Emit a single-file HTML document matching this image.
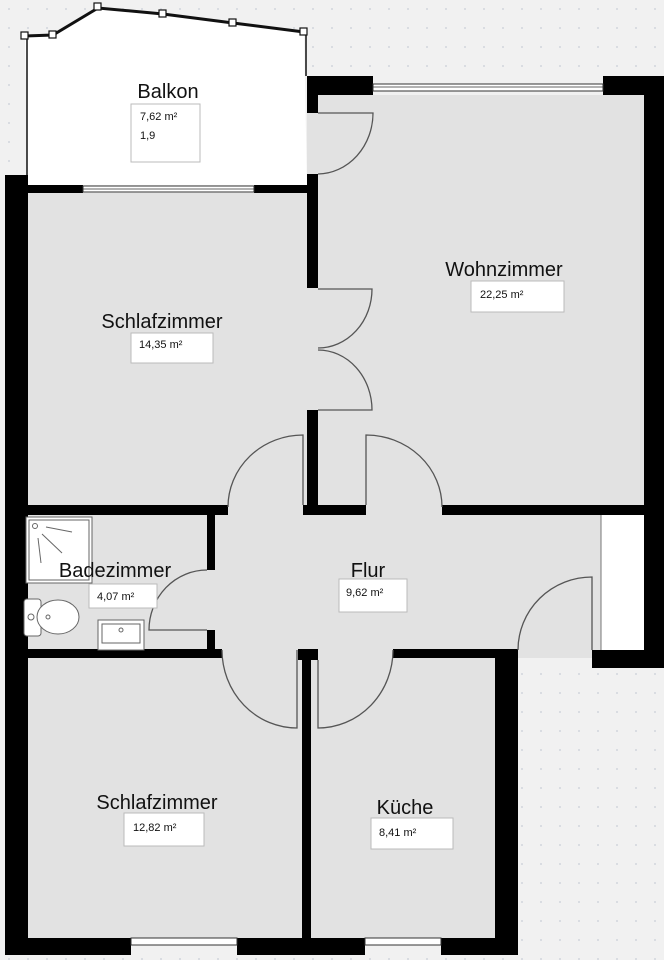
<!DOCTYPE html>
<html><head><meta charset="utf-8"><style>
html,body{margin:0;padding:0;background:#f1f1f1;}
svg{display:block}
text{font-family:"Liberation Sans",sans-serif;fill:#111}
</style></head><body>
<svg width="664" height="960" viewBox="0 0 664 960" xmlns="http://www.w3.org/2000/svg">
<defs>
<pattern id="dots" width="19" height="19" patternUnits="userSpaceOnUse"><circle cx="9" cy="9" r="0.9" fill="#c8ccd6"/></pattern>
</defs>
<rect width="664" height="960" fill="#f1f1f1"/>
<rect width="664" height="960" fill="url(#dots)"/>
<!-- balcony -->
<polygon points="25,36 53,35 98,8 163,14 233,23 304,32 307,185 28,185" fill="#fff"/>
<polyline points="25,36 53,35 98,8 163,14 233,23 304,32" fill="none" stroke="#111" stroke-width="3"/>
<line x1="27" y1="36" x2="27" y2="185" stroke="#111" stroke-width="1.5"/>
<line x1="306" y1="32" x2="306" y2="76" stroke="#111" stroke-width="1.5"/>
<g fill="#fff" stroke="#111" stroke-width="1.2">
<rect x="21" y="32" width="7" height="7"/><rect x="49" y="31" width="7" height="7"/><rect x="94" y="3" width="7" height="7"/><rect x="159" y="10" width="7" height="7"/><rect x="229" y="19" width="7" height="7"/><rect x="300" y="28" width="7" height="7"/>
</g>
<!-- room fills -->
<g fill="#e2e2e2">
<rect x="318" y="95" width="326" height="412"/>
<rect x="28" y="193" width="280" height="314"/>
<rect x="24" y="515" width="184" height="135"/>
<rect x="207" y="507" width="394" height="143"/>
<rect x="518" y="650" width="74" height="8"/>
<rect x="24" y="649" width="280" height="291"/>
<rect x="300" y="649" width="197" height="291"/>
<rect x="307" y="288" width="11" height="122"/>
<rect x="228" y="505" width="75" height="10"/>
<rect x="366" y="505" width="76" height="10"/>
</g>
<rect x="307" y="113" width="16" height="61" fill="#e2e2e2"/>
<rect x="601" y="515" width="43" height="135" fill="#fff"/>
<line x1="601" y1="515" x2="601" y2="650" stroke="#777" stroke-width="1"/>
<!-- walls -->
<g fill="#000">
<rect x="5" y="175" width="23" height="780"/>
<rect x="28" y="185" width="55" height="8"/>
<rect x="254" y="185" width="54" height="8"/>
<rect x="307" y="76" width="66" height="19"/>
<rect x="603" y="76" width="61" height="19"/>
<rect x="644" y="76" width="20" height="592"/>
<rect x="592" y="650" width="72" height="18"/>
<rect x="307" y="76" width="11" height="37"/>
<rect x="307" y="174" width="11" height="114"/>
<rect x="307" y="410" width="11" height="97"/>
<rect x="28" y="505" width="200" height="10"/>
<rect x="303" y="505" width="63" height="10"/>
<rect x="442" y="505" width="202" height="10"/>
<rect x="207" y="515" width="8" height="55"/>
<rect x="207" y="630" width="8" height="20"/>
<rect x="24" y="649" width="198" height="9"/>
<rect x="298" y="649" width="20" height="11"/>
<rect x="393" y="649" width="104" height="9"/>
<rect x="495" y="649" width="23" height="306"/>
<rect x="302" y="658" width="9" height="280"/>
<rect x="5" y="938" width="126" height="17"/>
<rect x="237" y="938" width="128" height="17"/>
<rect x="441" y="938" width="77" height="17"/>
</g>
<!-- windows -->
<g fill="#fff" stroke="#333" stroke-width="1">
<rect x="83" y="186" width="171" height="6"/>
<rect x="373" y="84" width="230" height="7"/>
<rect x="131" y="938" width="106" height="7"/>
<rect x="365" y="938" width="76" height="7"/>
</g>
<line x1="83" y1="189" x2="254" y2="189" stroke="#333" stroke-width="0.8"/>
<line x1="373" y1="87" x2="603" y2="87" stroke="#333" stroke-width="0.8"/>
<!-- doors -->
<g fill="none" stroke="#555" stroke-width="1.3">
<path d="M318,113 L373,113 A56,61 0 0 1 318,174"/>
<path d="M318,289 L372,289 A54,59 0 0 1 318,348"/>
<path d="M318,410 L372,410 A54,60 0 0 0 318,350"/>
<path d="M303,505 L303,435 A75,72 0 0 0 228,507"/>
<path d="M366,505 L366,435 A76,72 0 0 1 442,507"/>
<path d="M207,630 L149,630 A58,60 0 0 1 207,570"/>
<path d="M592,650 L592,577 A74,73 0 0 0 518,650"/>
<path d="M297,650 L297,728 A75,78 0 0 1 222,650"/>
<path d="M318,660 L318,728 A75,78 0 0 0 393,650"/>
</g>
<!-- fixtures -->
<g fill="#fff" stroke="#666" stroke-width="1">
<rect x="26" y="517" width="66" height="66"/>
<rect x="29" y="520" width="60" height="60" fill="none"/>
<circle cx="35" cy="526" r="2.5"/>
<line x1="46" y1="527" x2="72" y2="532"/><line x1="42" y1="534" x2="62" y2="553"/><line x1="38" y1="538" x2="41" y2="563"/>
<rect x="24" y="599" width="17" height="37" rx="3"/>
<ellipse cx="58" cy="617" rx="21" ry="17"/>
<circle cx="31" cy="617" r="3"/><circle cx="48" cy="617" r="2"/>
<rect x="98" y="620" width="46" height="30"/>
<rect x="102" y="624" width="38" height="19"/>
<circle cx="121" cy="630" r="2"/>
</g>
<!-- labels -->
<g font-size="20" text-anchor="middle">
<text x="168" y="98">Balkon</text>
<text x="504" y="276">Wohnzimmer</text>
<text x="162" y="328">Schlafzimmer</text>
<text x="115" y="577">Badezimmer</text>
<text x="368" y="577">Flur</text>
<text x="157" y="809">Schlafzimmer</text>
<text x="405" y="814">Küche</text>
</g>
<g fill="#fff" stroke="#bbb" stroke-width="1">
<rect x="131" y="104" width="69" height="58"/>
<rect x="471" y="281" width="93" height="31"/>
<rect x="131" y="333" width="82" height="30"/>
<rect x="89" y="584" width="68" height="24"/>
<rect x="339" y="579" width="68" height="33"/>
<rect x="124" y="813" width="80" height="33"/>
<rect x="371" y="818" width="82" height="31"/>
</g>
<g font-size="11">
<text x="140" y="120">7,62 m²</text>
<text x="140" y="139">1,9</text>
<text x="480" y="298">22,25 m²</text>
<text x="139" y="348">14,35 m²</text>
<text x="97" y="600">4,07 m²</text>
<text x="346" y="596">9,62 m²</text>
<text x="133" y="831">12,82 m²</text>
<text x="379" y="836">8,41 m²</text>
</g>
</svg>
</body></html>
